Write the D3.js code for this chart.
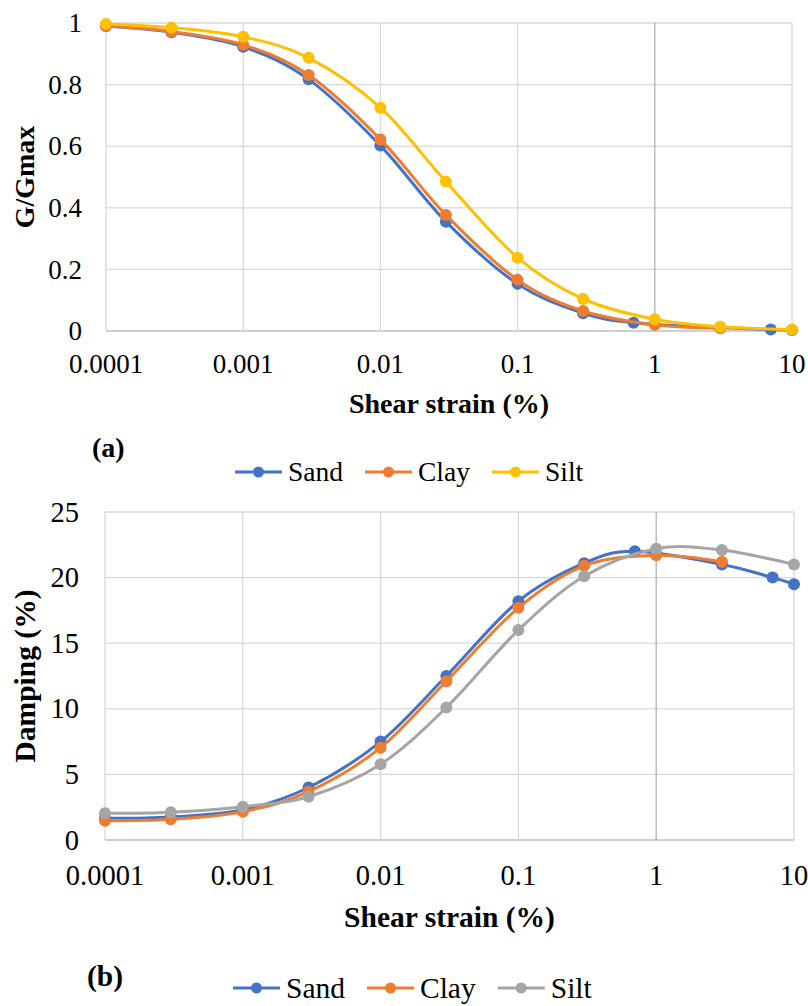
<!DOCTYPE html>
<html>
<head>
<meta charset="utf-8">
<script src="https://cdn.jsdelivr.net/npm/d3@7"></script>
<style>
  body { margin: 0; background: #fff; }
</style>
</head>
<body>
<svg id="chart" width="808" height="1006"></svg>
<script>
// tick values
const strainTicks = [0.0001, 0.001, 0.01, 0.1, 1, 10];
const modTicks = [0, 0.2, 0.4, 0.6, 0.8, 1];
const dampTicks = [0, 5, 10, 15, 20, 25];

// shear strain (%) of each point
const sandStrain = [0.0001, 0.0003, 0.001, 0.003, 0.01, 0.03, 0.1, 0.3, 0.7, 3, 7, 10];
const clayStrain = [0.0001, 0.0003, 0.001, 0.003, 0.01, 0.03, 0.1, 0.3, 1, 3];
const siltStrain = [0.0001, 0.0003, 0.001, 0.003, 0.01, 0.03, 0.1, 0.3, 1, 3, 10];

// (a) G/Gmax
const sandMod = [0.99, 0.97, 0.923, 0.817, 0.602, 0.355, 0.153, 0.058, 0.027, 0.011, 0.005, 0.003];
const clayMod = [0.99, 0.972, 0.929, 0.831, 0.622, 0.377, 0.166, 0.065, 0.02, 0.009];
const siltMod = [0.997, 0.985, 0.955, 0.887, 0.725, 0.485, 0.238, 0.104, 0.038, 0.014, 0.005];

// (b) damping (%)
const sandDamp = [1.65, 1.75, 2.3, 4.0, 7.5, 12.5, 18.2, 21.1, 22.0, 21.0, 20.0, 19.5];
const clayDamp = [1.47, 1.58, 2.16, 3.68, 7.04, 12.1, 17.7, 20.9, 21.7, 21.2];
const siltDamp = [2.03, 2.11, 2.54, 3.3, 5.77, 10.1, 16.0, 20.1, 22.2, 22.1, 21.0];

const FONT = '"Liberation Serif", "Times New Roman", Times, "DejaVu Serif", serif';

const svg = d3.select('#chart')
    .attr('font-family', FONT);
svg.append('rect').attr('width', 808).attr('height', 1006).attr('fill', '#fff');

const zip = (xs, ys) => xs.map((x, i) => ({x: x, y: ys[i]}));

function drawChart(c) {
    const g = svg.append('g');
    const xScale = d3.scaleLog().domain([0.0001, 10]).range([c.left, c.right]);
    const yScale = d3.scaleLinear().domain(c.yDomain).range([c.bottom, c.top]);

    // grid
    g.selectAll('.hgrid')
        .data(c.yTicks)
        .enter().append('line')
            .attr('x1', c.left).attr('x2', c.right)
            .attr('y1', d => yScale(d)).attr('y2', d => yScale(d))
            .attr('stroke', d => d === 0 ? '#bfbfbf' : '#d9d9d9')
            .attr('stroke-width', 1.3);
    g.selectAll('.vgrid')
        .data(strainTicks)
        .enter().append('line')
            .attr('x1', d => xScale(d)).attr('x2', d => xScale(d))
            .attr('y1', c.top).attr('y2', c.bottom)
            .attr('stroke', d => d === 1 ? '#b3b3b3' : '#d9d9d9')
            .attr('stroke-width', 1.3);

    // tick labels
    g.selectAll('.xlab')
        .data(strainTicks)
        .enter().append('text')
            .attr('x', d => xScale(d))
            .attr('y', c.xLabelY)
            .attr('text-anchor', 'middle')
            .attr('font-family', FONT)
            .attr('font-size', c.tickSize)
            .text(d => String(d));
    g.selectAll('.ylab')
        .data(c.yTicks)
        .enter().append('text')
            .attr('x', c.yLabelX)
            .attr('y', d => yScale(d))
            .attr('dy', '0.34em')
            .attr('text-anchor', 'end')
            .attr('font-family', FONT)
            .attr('font-size', c.tickSize)
            .text(d => String(d));

    // titles
    g.append('text')
        .attr('x', (c.left + c.right) / 2)
        .attr('y', c.xTitleY)
        .attr('text-anchor', 'middle')
        .attr('font-family', FONT)
        .attr('font-size', c.titleSize)
        .attr('font-weight', 'bold')
        .text('Shear strain (%)');
    g.append('text')
        .attr('transform', `translate(${c.yTitleX}, ${(c.top + c.bottom) / 2}) rotate(-90)`)
        .attr('text-anchor', 'middle')
        .attr('font-family', FONT)
        .attr('font-size', c.titleSize)
        .attr('font-weight', 'bold')
        .text(c.yTitle);
    g.append('text')
        .attr('x', c.tagX).attr('y', c.tagY)
        .attr('font-family', FONT)
        .attr('font-size', c.titleSize)
        .attr('font-weight', 'bold')
        .text(c.tag);

    // series
    const line = d3.line()
        .x(d => xScale(d.x))
        .y(d => yScale(d.y))
        .curve(d3.curveCardinal.tension(0));

    c.series.forEach(s => {
        const pts = zip(s.x, s.y);
        g.append('path')
            .attr('d', line(pts))
            .attr('fill', 'none')
            .attr('stroke', s.color)
            .attr('stroke-width', 3);
        g.selectAll(null)
            .data(pts)
            .enter().append('circle')
                .attr('cx', d => xScale(d.x))
                .attr('cy', d => yScale(d.y))
                .attr('r', 6)
                .attr('fill', s.color);
    });

    // legend
    let lx = c.legendX;
    c.series.forEach(s => {
        g.append('line')
            .attr('x1', lx).attr('x2', lx + 47)
            .attr('y1', c.legendY).attr('y2', c.legendY)
            .attr('stroke', s.color).attr('stroke-width', 3);
        g.append('circle')
            .attr('cx', lx + 23.5).attr('cy', c.legendY)
            .attr('r', 5.5).attr('fill', s.color);
        const t = g.append('text')
            .attr('x', lx + 53)
            .attr('y', c.legendY)
            .attr('dy', '0.33em')
            .attr('font-family', FONT)
            .attr('font-size', c.legendSize)
            .text(s.name);
        lx += 53 + t.node().getComputedTextLength() + 22;
    });
}

drawChart({
    left: 106, right: 792, top: 23, bottom: 331,
    yDomain: [0, 1], yTicks: modTicks,
    tickSize: 27, titleSize: 28, legendSize: 27.5,
    xLabelY: 373, yLabelX: 82, xTitleY: 413, yTitleX: 34,
    yTitle: 'G/Gmax', tag: '(a)', tagX: 92, tagY: 457,
    legendX: 235, legendY: 472,
    series: [
        {name: 'Sand', color: '#4472c4', x: sandStrain, y: sandMod},
        {name: 'Clay', color: '#ed7d31', x: clayStrain, y: clayMod},
        {name: 'Silt', color: '#ffc000', x: siltStrain, y: siltMod}
    ]
});

drawChart({
    left: 105, right: 794, top: 512, bottom: 840,
    yDomain: [0, 25], yTicks: dampTicks,
    tickSize: 28.5, titleSize: 29.5, legendSize: 29.5,
    xLabelY: 885, yLabelX: 79, xTitleY: 927, yTitleX: 35,
    yTitle: 'Damping (%)', tag: '(b)', tagX: 87, tagY: 986,
    legendX: 233, legendY: 988,
    series: [
        {name: 'Sand', color: '#4472c4', x: sandStrain, y: sandDamp},
        {name: 'Clay', color: '#ed7d31', x: clayStrain, y: clayDamp},
        {name: 'Silt', color: '#a5a5a5', x: siltStrain, y: siltDamp}
    ]
});
</script>
</body>
</html>
